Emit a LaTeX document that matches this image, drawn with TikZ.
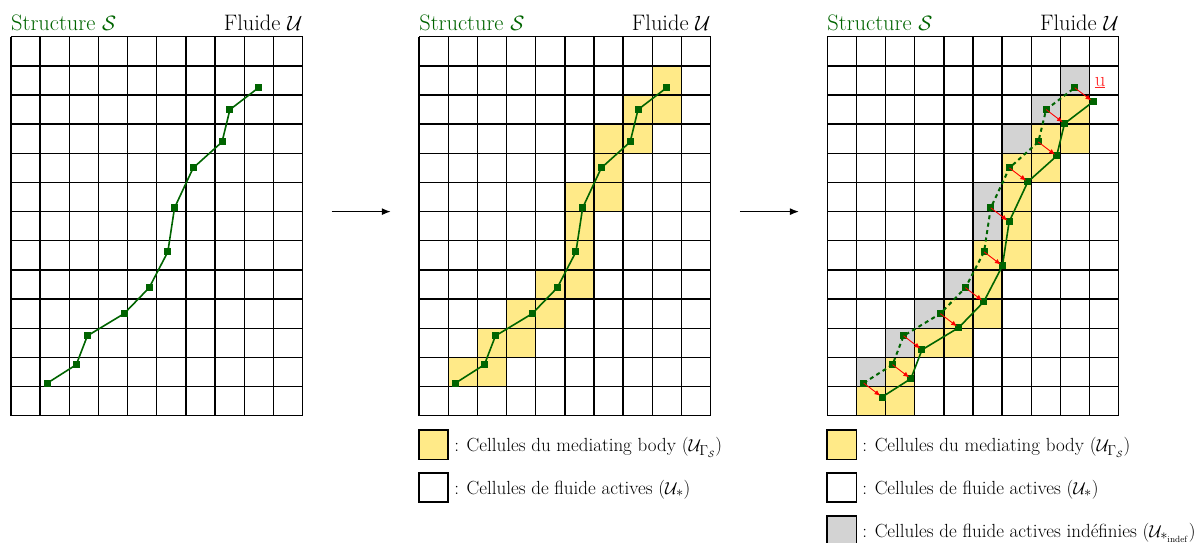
\documentclass[tikz,border=0pt]{standalone}
\usetikzlibrary{arrows.meta}
\definecolor{sgreen}{RGB}{0,100,0}
\definecolor{ycell}{RGB}{255,234,136}
\definecolor{gcell}{RGB}{211,211,211}
\tikzset{
  cellY/.style={fill=ycell},
  cellG/.style={fill=gcell},
  gridlines/.style={line width=1.4pt, black},
  sline/.style={sgreen, line width=1.6pt},
  dline/.style={sgreen, line width=2pt, dash pattern=on 4pt off 3.5pt},
  mk/.style={rectangle, fill=sgreen, inner sep=0pt, minimum size=7pt},
  disp/.style={red, line width=0.9pt, -{Latex[length=6pt,width=5pt]}, shorten >=2pt},
  bigarrow/.style={black, line width=1.3pt, -{Latex[length=9pt,width=7pt]}},
  title/.style={inner sep=0pt, font=\fontsize{22.4}{27}\selectfont},
  legtxt/.style={inner sep=0pt, anchor=base west, font=\fontsize{19}{23}\selectfont},
  legbox/.style={rectangle, draw=black, line width=1.6pt, minimum size=29.15pt, inner sep=0pt},
}
\begin{document}
\begin{tikzpicture}[x=29.15pt,y=29.15pt]
\useasboundingbox (-0.377,-4.333) rectangle (40.925,14.26);

% points of the structure
\foreach \x/\y [count=\i] in {1.25/1.12,2.24/1.75,2.62/2.74,3.88/3.50,4.74/4.39,5.38/5.62,5.61/7.13,6.25/8.50,7.24/9.39,7.51/10.5,8.49/11.25}{
  \coordinate (A\i) at (\x,\y);
  \coordinate (B\i) at (\x+14,\y);
  \coordinate (C\i) at (\x+28,\y);
  \coordinate (D\i) at (\x+28.63,\y-0.48);
}

% cells of grid 2
\foreach \c/\r in {8/11,7/10,8/10,6/9,7/9,6/8,5/7,6/7,5/6,5/5,4/4,5/4,3/3,4/3,2/2,3/2,1/1,2/1}
  \fill[cellY] (14+\c,\r) rectangle ++(1,1);
% cells of grid 3
\foreach \c/\r in {1/0,2/0,2/1,3/2,4/2,4/3,5/3,5/4,5/5,6/5,6/6,6/7,6/8,7/8,7/9,8/9,8/10}
  \fill[cellY] (28+\c,\r) rectangle ++(1,1);
\foreach \c/\r in {1/1,2/2,3/3,4/4,5/6,5/7,6/9,7/10,8/11}
  \fill[cellG] (28+\c,\r) rectangle ++(1,1);

% grids and titles
\foreach \ox [count=\k] in {0,14,28}{
  \foreach \i in {0,...,10}
    \draw[gridlines] (\ox+\i,0) -- (\ox+\i,13);
  \foreach \j in {0,...,13}
    \draw[gridlines] (\ox,\j) -- (\ox+10,\j);
  \node[title, anchor=base west, text=sgreen] (st\k) at (\ox,13.21) {Structure $\mathcal{S}$};
  \node[title, anchor=base east] (fl\k) at (\ox+10,13.21) {Fluide $\mathcal{U}$};
}

% structure lines
\draw[sline] (A1) \foreach \i in {2,...,11}{ -- (A\i)};
\draw[sline] (B1) \foreach \i in {2,...,11}{ -- (B\i)};
\draw[dline] (C1) \foreach \i in {2,...,11}{ -- (C\i)};
\draw[sline] (D1) \foreach \i in {2,...,11}{ -- (D\i)};

% markers
\foreach \i in {1,...,11}{
  \node[mk] (mA\i) at (A\i) {};
  \node[mk] (mB\i) at (B\i) {};
  \node[mk] (mC\i) at (C\i) {};
  \node[mk] (mD\i) at (D\i) {};
}

% displacements
\foreach \i in {1,...,11}
  \draw[disp] (C\i) -- (D\i);
\node[text=red!85, inner sep=0pt, font=\fontsize{21}{25}\selectfont] (ulab) at (37.36,11.42) {$\underline{\mathrm{u}}$};

% big arrows
\coordinate (a1s) at (11,7);
\coordinate (a1e) at (13.03,7);
\coordinate (a2s) at (25,7);
\coordinate (a2e) at (27.03,7);
\draw[bigarrow] (a1s) -- (a1e);
\draw[bigarrow] (a2s) -- (a2e);

% legends
\node[legbox, fill=ycell] (lb1) at (14.5,-1) {};
\node[legtxt] (lt1) at (15.2,-1.23) {: Cellules du mediating body ($\mathcal{U}_{\Gamma_{\mathcal{S}}}$)};
\node[legbox, fill=white] (lb2) at (14.5,-2.47) {};
\node[legtxt] (lt2) at (15.2,-2.70) {: Cellules de fluide actives ($\mathcal{U}_{*}$)};

\node[legbox, fill=ycell] (lb3) at (28.5,-1) {};
\node[legtxt] (lt3) at (29.2,-1.23) {: Cellules du mediating body ($\mathcal{U}_{\Gamma_{\mathcal{S}}}$)};
\node[legbox, fill=white] (lb4) at (28.5,-2.47) {};
\node[legtxt] (lt4) at (29.2,-2.70) {: Cellules de fluide actives ($\mathcal{U}_{*}$)};
\node[legbox, fill=gcell] (lb5) at (28.5,-3.94) {};
\node[legtxt] (lt5) at (29.2,-4.17) {: Cellules de fluide actives indéfinies ($\mathcal{U}_{*_{\mathrm{indef}}}$)};
\end{tikzpicture}
\end{document}
